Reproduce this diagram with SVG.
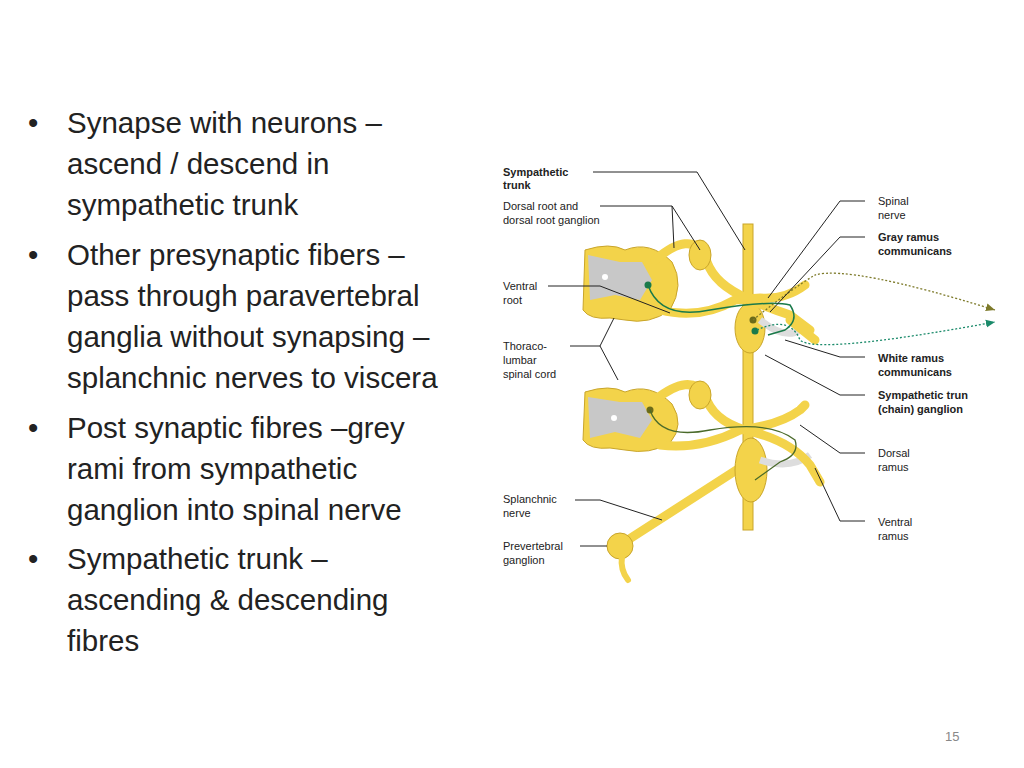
<svg xmlns="http://www.w3.org/2000/svg" width="1024" height="768" viewBox="0 0 1024 768">
<style>
.b{font-family:"Liberation Sans",Arial,sans-serif;font-size:29.5px;fill:#222}
.l{font-family:"Liberation Sans",Arial,sans-serif;font-size:11px;fill:#222}
.bd{font-weight:bold}
.ln{fill:none;stroke:#222;stroke-width:1}
.n{fill:#f3d34a;stroke:#c9a52a;stroke-width:1}
.nv{fill:none;stroke:#f3d34a;stroke-linecap:round}
.g{fill:#c8c8c8}
</style>
<defs>
<marker id="ao" markerWidth="8" markerHeight="8" refX="7" refY="4" orient="auto"><path d="M0,1 L7,4 L0,7Z" fill="#7d7a2a"/></marker>
<marker id="at" markerWidth="8" markerHeight="8" refX="7" refY="4" orient="auto"><path d="M0,1 L7,4 L0,7Z" fill="#1a8a6a"/></marker>
</defs>
<rect width="1024" height="768" fill="#fff"/>
<g id="bullets">
<text class="b" x="28" y="133">•</text><text class="b" x="67" y="133">Synapse with neurons –</text>
<text class="b" x="67" y="174">ascend / descend in</text>
<text class="b" x="67" y="215">sympathetic trunk</text>
<text class="b" x="28" y="265">•</text><text class="b" x="67" y="265">Other presynaptic fibers –</text>
<text class="b" x="67" y="306">pass through paravertebral</text>
<text class="b" x="67" y="347">ganglia without synapsing –</text>
<text class="b" x="67" y="388">splanchnic nerves to viscera</text>
<text class="b" x="28" y="438">•</text><text class="b" x="67" y="438">Post synaptic fibres –grey</text>
<text class="b" x="67" y="479">rami from sympathetic</text>
<text class="b" x="67" y="520">ganglion into spinal nerve</text>
<text class="b" x="28" y="569">•</text><text class="b" x="67" y="569">Sympathetic trunk –</text>
<text class="b" x="67" y="610">ascending &amp; descending</text>
<text class="b" x="67" y="651">fibres</text>
</g>
<text x="945" y="741" style="font-family:'Liberation Sans',Arial,sans-serif;font-size:13px;fill:#888">15</text>
<g id="illustration">
<path class="nv" d="M620,545 L752,460" stroke-width="9"/>
<circle class="n" cx="620" cy="546" r="13"/>
<path class="nv" d="M622,556 Q620,570 628,580" stroke-width="6"/>
<rect class="n" x="743" y="224" width="10" height="306"/>
<ellipse class="n" cx="750" cy="328" rx="15" ry="25"/>
<ellipse class="n" cx="751" cy="470" rx="16" ry="32"/>
<path d="M760,320 Q785,340 800,330" fill="none" stroke="#ddd" stroke-width="7"/>
<path d="M760,460 Q790,470 810,455" fill="none" stroke="#ddd" stroke-width="7"/>
<path class="n" d="M585,250 Q610,242 625,250 Q650,240 672,262 Q685,285 670,310 Q650,325 625,320 L610,318 Q590,320 583,310 Z"/>
<path class="g" d="M588,255 L620,262 L642,262 L652,280 L640,300 L615,295 L590,300 Z"/>
<circle cx="605" cy="277" r="3" fill="#fff"/>
<path class="nv" d="M655,260 Q690,230 705,255 Q710,280 740,295 Q760,305 790,315 L810,330" stroke-width="9"/>
<path class="nv" d="M660,310 Q700,320 735,300 L760,298 Q785,300 805,285" stroke-width="9"/>
<ellipse class="n" cx="700" cy="255" rx="11" ry="15"/>
<path class="nv" d="M790,320 L815,340" stroke-width="9"/>
<path class="n" d="M585,392 Q610,384 625,392 Q650,382 672,404 Q685,425 670,443 Q650,455 625,450 L610,448 Q590,450 583,440 Z"/>
<path class="g" d="M588,397 L620,402 L642,402 L652,420 L640,438 L615,432 L590,438 Z"/>
<circle cx="614" cy="418" r="3" fill="#fff"/>
<path class="nv" d="M655,400 Q690,372 705,395 Q712,420 745,430 Q790,440 810,465 L820,482" stroke-width="9"/>
<path class="nv" d="M660,445 Q700,450 740,430 Q780,425 800,410 L805,405" stroke-width="9"/>
<ellipse class="n" cx="700" cy="395" rx="11" ry="14"/>
<circle cx="648" cy="285" r="3.5" fill="#1a7a4a"/>
<path d="M648,285 Q660,320 710,310 Q770,300 790,305 Q800,320 785,330 L768,335" fill="none" stroke="#1a7a4a" stroke-width="1.5"/>
<circle cx="753" cy="320" r="3.5" fill="#6b6b1a"/>
<circle cx="755" cy="331" r="3.5" fill="#1a7a4a"/>
<path d="M757,330 Q790,315 800,340 Q815,355 995,322" fill="none" stroke="#1a8a6a" stroke-width="1.3" stroke-dasharray="2,2" marker-end="url(#at)"/>
<path d="M753,320 Q790,290 815,275 Q850,265 995,310" fill="none" stroke="#7d7a2a" stroke-width="1.3" stroke-dasharray="2,2" marker-end="url(#ao)"/>
<circle cx="650" cy="410" r="3.5" fill="#6b6b1a"/>
<path d="M650,410 Q660,440 710,430 Q770,420 795,440 Q800,455 780,462 L755,480" fill="none" stroke="#4a6a2a" stroke-width="1.3"/>
</g>
<g id="connectors">
<path class="ln" d="M593,172 H697 L745,250"/>
<path class="ln" d="M600,206 H672 L674,248 M672,206 L700,250"/>
<path class="ln" d="M548,286 H600 L670,313"/>
<path class="ln" d="M570,346 H600 L614,318 M600,346 L618,380"/>
<path class="ln" d="M865,201 H840 L768,298"/>
<path class="ln" d="M865,237 H840 L770,312"/>
<path class="ln" d="M865,357 H840 L785,340"/>
<path class="ln" d="M865,395 H840 L765,355"/>
<path class="ln" d="M865,453 H840 L800,425"/>
<path class="ln" d="M865,521 H840 L815,468"/>
<path class="ln" d="M575,500 H600 L662,520"/>
<path class="ln" d="M580,546 H607"/>
</g>
<g id="labels">
<text class="l bd" x="503" y="176">Sympathetic</text><text class="l bd" x="503" y="189">trunk</text>
<text class="l" x="503" y="210">Dorsal root and</text><text class="l" x="503" y="224">dorsal root ganglion</text>
<text class="l" x="503" y="290">Ventral</text><text class="l" x="503" y="304">root</text>
<text class="l" x="503" y="350">Thoraco-</text><text class="l" x="503" y="364">lumbar</text><text class="l" x="503" y="378">spinal cord</text>
<text class="l" x="503" y="503">Splanchnic</text><text class="l" x="503" y="517">nerve</text>
<text class="l" x="503" y="550">Prevertebral</text><text class="l" x="503" y="564">ganglion</text>
<text class="l" x="878" y="205">Spinal</text><text class="l" x="878" y="219">nerve</text>
<text class="l bd" x="878" y="241">Gray ramus</text><text class="l bd" x="878" y="255">communicans</text>
<text class="l bd" x="878" y="362">White ramus</text><text class="l bd" x="878" y="376">communicans</text>
<text class="l bd" x="878" y="399">Sympathetic trun</text><text class="l bd" x="878" y="413">(chain) ganglion</text>
<text class="l" x="878" y="457">Dorsal</text><text class="l" x="878" y="471">ramus</text>
<text class="l" x="878" y="526">Ventral</text><text class="l" x="878" y="540">ramus</text>
</g>
</svg>
